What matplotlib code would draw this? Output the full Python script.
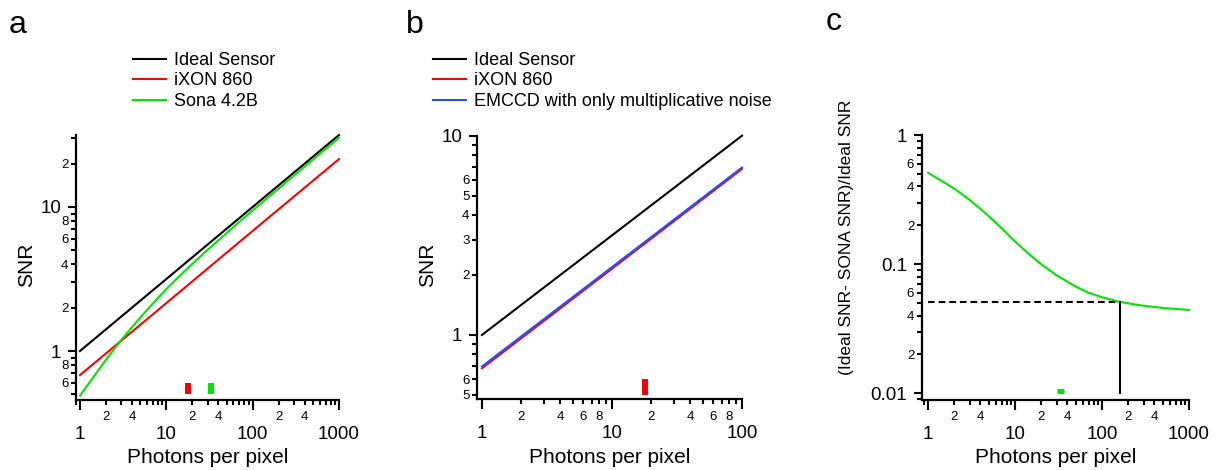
import math
import matplotlib
matplotlib.use("Agg")
import matplotlib.pyplot as plt
from matplotlib.ticker import LogLocator, FuncFormatter

plt.rcParams['font.family'] = ['Liberation Sans', 'DejaVu Sans']

# Panel a: SNR vs photons per pixel
photons_a = [1, 10, 100, 1000]
ideal_a = [1.0, 3.16, 10.0, 31.6]
ixon_a = [0.68, 2.15, 6.82, 21.5]
photons_sona = [1, 2, 3, 4, 5, 7, 10, 15, 20, 30, 50, 70, 100, 150, 200, 300, 500, 700, 1000]
sona_a = [0.49, 0.87, 1.19, 1.46, 1.71, 2.14, 2.69, 3.42, 4.03, 5.03, 6.60, 7.87,
          9.45, 11.62, 13.44, 16.50, 21.34, 25.27, 30.23]

# Panel b: EMCCD comparison
photons_b = [1, 10, 100]
ideal_b = [1.0, 3.16, 10.0]
ixon_b = [0.68, 2.15, 6.81]
emccd_b = [0.695, 2.19, 6.92]

# Panel c: relative SNR loss of the Sona
ratio_c = [0.51, 0.385, 0.315, 0.268, 0.235, 0.19, 0.15, 0.117, 0.1, 0.082, 0.067,
           0.06, 0.0555, 0.0515, 0.0497, 0.0476, 0.0458, 0.045, 0.0442]
cross_n = 160
cross_ratio = 0.051

# threshold marks on the photon axis
ixon_mark = 18
sona_mark = 33
snr_mark = [0.5, 0.6]
sona_mark_c = [30, 37]
ratio_mark_c = 0.0105

labels_a = ['Ideal Sensor', 'iXON 860', 'Sona 4.2B']
labels_b = ['Ideal Sensor', 'iXON 860', 'EMCCD with only multiplicative noise']

BLACK = '#000000'
RED = '#ff0000'
GREEN = '#00e600'
BLUE = '#2050ff'

W, H = 1222, 470
fig = plt.figure(figsize=(W / 100, H / 100), dpi=100)


def px_axes(left, top, right, bottom):
    return fig.add_axes([left / W, 1 - bottom / H, (right - left) / W, (bottom - top) / H])


def minor_fmt(labeled):
    def f(v, pos):
        d = int(round(v / 10 ** math.floor(math.log10(v) + 1e-9)))
        return str(d) if d in labeled else ''
    return f


def style_axes(ax, x_labeled, y_labeled):
    ax.set_xscale('log')
    ax.set_yscale('log')
    for s in ('top', 'right'):
        ax.spines[s].set_visible(False)
    for s in ('left', 'bottom'):
        ax.spines[s].set_linewidth(1.6)
    for axis, labeled in ((ax.xaxis, x_labeled), (ax.yaxis, y_labeled)):
        axis.set_major_locator(LogLocator(10, subs=(1.0,), numticks=20))
        axis.set_minor_locator(LogLocator(10, subs=range(2, 10), numticks=20))
        axis.set_major_formatter(FuncFormatter(lambda v, p: f"{v:g}"))
        axis.set_minor_formatter(FuncFormatter(minor_fmt(labeled)))
    ax.tick_params(which='both', direction='out', width=1.5, color='black')
    ax.tick_params(axis='x', which='major', length=7.2, pad=11.5, labelsize=13.5)
    ax.tick_params(axis='x', which='minor', length=3.6, pad=4.6, labelsize=9.5)
    ax.tick_params(axis='y', which='major', length=6, pad=4.5, labelsize=13.5)
    ax.tick_params(axis='y', which='minor', length=3.4, pad=2, labelsize=9.5)


def set_labels(ax, xcenter, ylabel, yright, ycenter, ysize=15):
    ax.set_xlabel('Photons per pixel', fontsize=15)
    ax.xaxis.set_label_coords(xcenter / W, 1 - 448 / H, transform=fig.transFigure)
    ax.set_ylabel(ylabel, fontsize=ysize)
    ax.yaxis.set_label_coords(yright / W, 1 - ycenter / H, transform=fig.transFigure)


def add_legend(ax, left):
    ax.legend(loc='upper left', bbox_to_anchor=(left / W, 1 - 52 / H), bbox_transform=fig.transFigure,
              frameon=False, fontsize=13, handlelength=1.83, handletextpad=0.42,
              labelspacing=0.19, borderpad=0, borderaxespad=0)


# ---- panel a
ax_a = px_axes(76, 135, 339, 400)
style_axes(ax_a, {2, 4}, {2, 4, 6, 8})
ax_a.plot(photons_a, ideal_a, color=BLACK, lw=1.5, clip_on=False, label=labels_a[0])
ax_a.plot(photons_a, ixon_a, color=RED, lw=1.5, clip_on=False, label=labels_a[1])
ax_a.plot(photons_sona, sona_a, color=GREEN, lw=1.5, clip_on=False, label=labels_a[2])
ax_a.plot([ixon_mark, ixon_mark], snr_mark, color=RED, lw=4.3, solid_capstyle='butt')
ax_a.plot([sona_mark, sona_mark], snr_mark, color=GREEN, lw=4.3, solid_capstyle='butt')
ax_a.set_xlim(0.9, 1000)
ax_a.set_ylim(0.457, 31.6)
set_labels(ax_a, 208, 'SNR', 36, 265)
add_legend(ax_a, 133)

# ---- panel b
ax_b = px_axes(477, 135.7, 742, 399.4)
style_axes(ax_b, {2, 4, 6, 8}, {2, 3, 4, 5, 6})
ax_b.plot(photons_b, ideal_b, color=BLACK, lw=1.5, clip_on=False, label=labels_b[0])
ax_b.plot(photons_b, ixon_b, color=RED, lw=1.5, clip_on=False, label=labels_b[1])
ax_b.plot(photons_b, emccd_b, color=BLUE, lw=1.5, clip_on=False, label=labels_b[2])
ax_b.plot([ixon_mark, ixon_mark], snr_mark, color=RED, lw=4.3, solid_capstyle='butt')
ax_b.set_xlim(0.916, 100)
ax_b.set_ylim(0.475, 10)
set_labels(ax_b, 610, 'SNR', 437, 265)
add_legend(ax_b, 433)

# ---- panel c
ax_c = px_axes(921.7, 135, 1189, 400)
style_axes(ax_c, {2, 4}, {2, 4, 6})
ax_c.plot(photons_sona, ratio_c, color=GREEN, lw=1.5, clip_on=False)
ax_c.plot([1, cross_n], [cross_ratio, cross_ratio], color=BLACK, lw=1.5, ls=(0, (3.2, 1.9)))
ax_c.plot([cross_n, cross_n], [0.01, cross_ratio], color=BLACK, lw=1.5)
ax_c.plot(sona_mark_c, [ratio_mark_c, ratio_mark_c], color=GREEN, lw=3.6, solid_capstyle='butt')
ax_c.set_xlim(0.846, 1000)
ax_c.set_ylim(0.00887, 1)
set_labels(ax_c, 1056, '(Ideal SNR- SONA SNR)/Ideal SNR', 854, 237, ysize=12.5)

# panel letters
for x, y, t in ((9, 33.3, 'a'), (406, 33.3, 'b'), (826, 30, 'c')):
    fig.text(x / W, 1 - y / H, t, fontsize=23, ha='left', va='baseline')

fig.savefig('out.png', dpi=100)
